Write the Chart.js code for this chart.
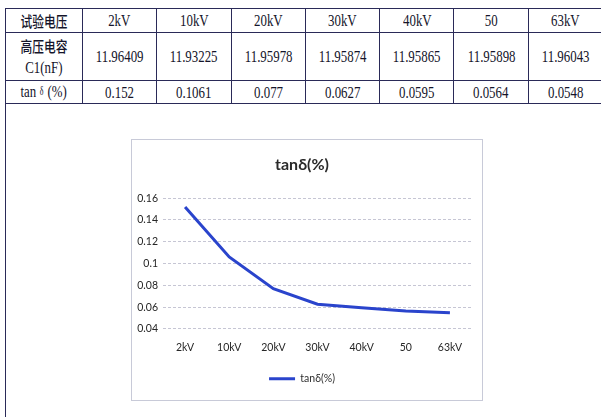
<!DOCTYPE html>
<html>
<head>
<meta charset="utf-8">
<script src="https://cdn.jsdelivr.net/npm/chart.js@4/dist/chart.umd.min.js"></script>
<style>
  html, body { margin: 0; padding: 0; background: #fff; width: 601px; height: 417px; overflow: hidden; }
  body { position: relative; }
  #frame { position: absolute; left: 5px; top: 8px; width: 597px; height: 440px;
           border: 1.5px solid #2a2a58; box-sizing: border-box; }
  table { position: absolute; left: 5px; top: 8px; width: 597px; border-collapse: collapse; table-layout: fixed; }
  td { border: 1.5px solid #2a2a58; text-align: center; vertical-align: middle; padding: 0;
       color: #14142a; font-family: "Liberation Serif", serif; font-size: 16.5px; line-height: 21px; }
  td span { display: inline-block; transform: scaleX(0.78); white-space: nowrap; }
  .cjk { font-family: "Noto Sans CJK SC", sans-serif; font-size: 15px; font-weight: 500; }
  .delta { font-size: 13px; position: relative; top: -2px; }
  #box { position: absolute; left: 131px; top: 139px; width: 352px; height: 262px;
         border: 1px solid #c8cad8; box-sizing: border-box; background: #fff; }
  #box canvas { display: block; }
</style>
</head>
<body>
<div id="frame"></div>
<table id="tbl"></table>
<div id="box"><canvas id="c" width="350" height="260"></canvas></div>
<script>
// Test voltages, measured HV capacitance C1 (nF) and dissipation factor tanδ (%)
const voltages = ['2kV', '10kV', '20kV', '30kV', '40kV', '50', '63kV'];
const capacitance = [11.96409, 11.93225, 11.95978, 11.95874, 11.95865, 11.95898, 11.96043];
const tanDelta = [0.152, 0.1061, 0.077, 0.0627, 0.0595, 0.0564, 0.0548];
const yTicks = [0.04, 0.06, 0.08, 0.1, 0.12, 0.14, 0.16];

// Data table above the chart
const tbl = document.getElementById('tbl');
const colW = [77].concat(voltages.map(() => 74.3));
tbl.innerHTML =
  '<colgroup>' + colW.map(w => `<col style="width:${w}px">`).join('') + '</colgroup>' +
  '<tr style="height:24px"><td><span class="cjk">试验电压</span></td>' +
    voltages.map(v => `<td><span>${v}</span></td>`).join('') + '</tr>' +
  '<tr style="height:48px"><td><span class="cjk">高压电容</span><br><span>C1(nF)</span></td>' +
    capacitance.map(v => `<td><span>${v}</span></td>`).join('') + '</tr>' +
  '<tr style="height:23px"><td><span>tan <span class="delta">δ</span> (%)</span></td>' +
    tanDelta.map(v => `<td><span>${v}</span></td>`).join('') + '</tr>';

// Line chart of tanδ against test voltage
const blue = '#2a44cc';
new Chart(document.getElementById('c'), {
  type: 'line',
  data: {
    labels: voltages,
    datasets: [{
      label: 'tanδ(%)',
      data: tanDelta,
      borderColor: blue,
      backgroundColor: blue,
      borderWidth: 3,
      pointRadius: 0,
      tension: 0,
      fill: false
    }]
  },
  options: {
    responsive: false,
    animation: false,
    layout: { padding: { left: 0, right: 10, top: 0, bottom: 6 } },
    plugins: {
      title: {
        display: true,
        text: 'tanδ(%)',
        color: '#2a2a2a',
        font: { family: 'Lato', size: 16, weight: 'bold' },
        padding: { top: 15, bottom: 24 }
      },
      legend: {
        position: 'bottom',
        labels: {
          usePointStyle: true,
          pointStyle: 'line',
          pointStyleWidth: 26,
          boxHeight: 10,
          padding: 8,
          color: '#2e2e2e',
          font: { family: 'Lato', size: 10.5 }
        }
      },
      tooltip: { enabled: false }
    },
    scales: {
      x: {
        offset: true,
        grid: { display: false, drawTicks: false },
        border: { display: false },
        ticks: { padding: 12, color: '#262626', maxRotation: 0, autoSkip: false,
                 font: { family: 'Lato', size: 10.5 } }
      },
      y: {
        min: 0.04,
        max: 0.16,
        afterFit(s) { s.width = 31; },
        afterBuildTicks(s) { s.ticks = yTicks.map(v => ({ value: v })); },
        grid: { color: '#c6c6d4', lineWidth: 1, drawTicks: false },
        border: { display: false, dash: [3, 2] },
        ticks: { padding: 5, color: '#262626', font: { family: 'Lato', size: 10.5 },
                 callback: v => String(+v.toFixed(2)) }
      }
    }
  }
});
</script>
</body>
</html>
